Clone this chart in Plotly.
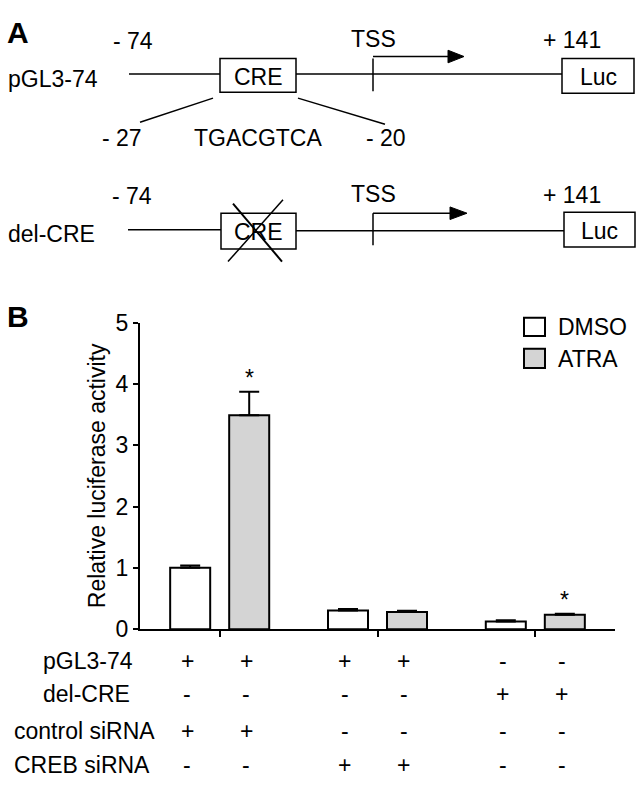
import plotly.graph_objects as go

# ---------------- data ----------------
groups = [0, 1, 2]
dmso_values = [1.00, 0.305, 0.125]
dmso_err = [0.04, 0.025, 0.022]
atra_values = [3.49, 0.28, 0.237]
atra_err = [0.38, 0.02, 0.015]
atra_significant = [True, False, True]

row_labels = ["pGL3-74", "del-CRE", "control siRNA", "CREB siRNA"]
sign_table = [
    ["+", "+", "+", "+", "-", "-"],
    ["-", "-", "-", "-", "+", "+"],
    ["+", "+", "-", "-", "-", "-"],
    ["-", "-", "+", "+", "-", "-"],
]
y_ticks = [0, 1, 2, 3, 4, 5]

# ---------------- helpers ----------------
W, H = 642, 795
FONT = "Arial, Liberation Sans, sans-serif"


def X(px):
    return px / W


def Y(py):
    return 1 - py / H


shapes = []
annotations = []


def line(x0, y0, x1, y1, w=1.5):
    shapes.append(dict(type="line", xref="paper", yref="paper",
                       x0=X(x0), y0=Y(y0), x1=X(x1), y1=Y(y1),
                       line=dict(color="black", width=w)))


def rect(x0, y0, x1, y1, fill="white", w=1.5):
    shapes.append(dict(type="rect", xref="paper", yref="paper",
                       x0=X(x0), y0=Y(y0), x1=X(x1), y1=Y(y1),
                       fillcolor=fill, line=dict(color="black", width=w)))


def tri(pts):
    d = "M " + " L ".join(f"{X(a)} {Y(b)}" for a, b in pts) + " Z"
    shapes.append(dict(type="path", xref="paper", yref="paper", path=d,
                       fillcolor="black", line=dict(color="black", width=1)))


def text(t, x, y, size=23, xanchor="center", bold=False):
    annotations.append(dict(text=f"<b>{t}</b>" if bold else t, xref="paper", yref="paper",
                            x=X(x), y=Y(y), xanchor=xanchor, yanchor="middle",
                            showarrow=False, borderpad=0,
                            font=dict(family=FONT, size=size, color="black")))


# ---------------- panel A diagram ----------------
text("A", 18, 20, size=30, bold=True)
text("B", 18, 314, size=30, bold=True)

# construct 1: pGL3-74
text("- 74", 133, 29)
text("TSS", 374, 27)
text("+ 141", 572, 28)
text("pGL3-74", 7, 68, xanchor="left")
line(129, 63, 220, 63)
line(296, 63, 562, 63)
rect(220, 47, 296, 82)
rect(562, 47, 634, 83)
text("CRE", 258, 66)
text("Luc", 598, 66)
line(373, 47, 373, 81)
line(373, 45, 452, 45)
tri([(448, 38.5), (464, 45), (448, 51.5)])
line(213, 88, 140, 113)
line(298, 88, 385, 115)
text("- 27", 122, 129)
text("TGACGTCA", 258, 129)
text("- 20", 386, 129)

# construct 2: del-CRE
text("- 74", 132, 189)
text("TSS", 374, 187)
text("+ 141", 572, 188)
text("del-CRE", 7, 228, xanchor="left")
line(128, 224, 221, 224)
line(296, 225, 564, 225)
rect(221, 207, 296, 244)
rect(564, 206, 635, 242)
text("CRE", 258, 226)
text("Luc", 599, 225)
line(233, 197, 282, 257, w=2)
line(228, 257, 283, 193, w=1.5)
line(373, 207, 373, 240)
line(373, 207, 455, 207)
tri([(450, 200.5), (467, 207), (450, 213.5)])

# ---------------- panel B legend ----------------
rect(524, 315, 545, 334, fill="white", w=2)
rect(524, 347, 545, 367, fill="#d4d4d4", w=2)
text("DMSO", 557, 325, xanchor="left")
text("ATRA", 557, 358, xanchor="left")

# ---------------- panel B bars ----------------
fig = go.Figure()
fig.add_trace(go.Bar(
    x=groups, y=dmso_values, name="DMSO",
    marker=dict(color="white", line=dict(color="black", width=2)),
    error_y=dict(type="data", array=dmso_err, arrayminus=[0] * 3, symmetric=False,
                 color="black", thickness=2, width=10),
    showlegend=False,
))
fig.add_trace(go.Bar(
    x=groups, y=atra_values, name="ATRA",
    marker=dict(color="#d4d4d4", line=dict(color="black", width=2)),
    error_y=dict(type="data", array=atra_err, arrayminus=[0] * 3, symmetric=False,
                 color="black", thickness=2, width=10),
    showlegend=False,
))

BAR_OFF = 0.187
for g, v, e, s in zip(groups, atra_values, atra_err, atra_significant):
    if s:
        annotations.append(dict(text="*", xref="x", yref="y", x=g + BAR_OFF, y=v + e,
                                xanchor="center", yanchor="bottom", yshift=-1, showarrow=False,
                                font=dict(family=FONT, size=23, color="black")))

# condition table below the axis
row_y = [670, 704, 742, 777]
row_x = [42, 42, 13, 13]
for lbl, rx, ry in zip(row_labels, row_x, row_y):
    text(lbl, rx, ry, xanchor="left")
for r, row in enumerate(sign_table):
    for c, sgn in enumerate(row):
        g = groups[c // 2]
        side = -1 if c % 2 == 0 else 1
        annotations.append(dict(text=sgn, xref="x", yref="paper", x=g + side * BAR_OFF - 0.02,
                                y=Y(row_y[r]), xanchor="center", yanchor="middle", showarrow=False,
                                font=dict(family=FONT, size=23, color="black")))

fig.update_layout(
    width=W, height=H, autosize=False,
    margin=dict(l=0, r=0, t=0, b=0),
    paper_bgcolor="white", plot_bgcolor="white",
    barmode="group", bargap=0.252, bargroupgap=0.322,
    xaxis=dict(domain=[X(140), X(615)], range=[-0.505, 2.505], tickvals=groups,
               showticklabels=False, ticks="outside", ticklen=6, tickwidth=2, tickcolor="black",
               showline=True, linecolor="black", linewidth=2, showgrid=False, zeroline=False,
               fixedrange=True),
    yaxis=dict(domain=[Y(637), Y(320)], range=[0, 5], tickvals=y_ticks,
               ticks="outside", ticklen=5, tickwidth=2, tickcolor="black",
               tickfont=dict(family=FONT, size=23, color="black"),
               showline=True, linecolor="black", linewidth=2, showgrid=False, zeroline=False,
               title=dict(text="Relative luciferase activity", standoff=4,
                          font=dict(family=FONT, size=23, color="black")),
               fixedrange=True),
    shapes=shapes,
    annotations=annotations,
)

fig.write_html("out.html", config={"displayModeBar": False},
               post_script="document.body.style.margin='0px';document.body.style.overflow='hidden';")
